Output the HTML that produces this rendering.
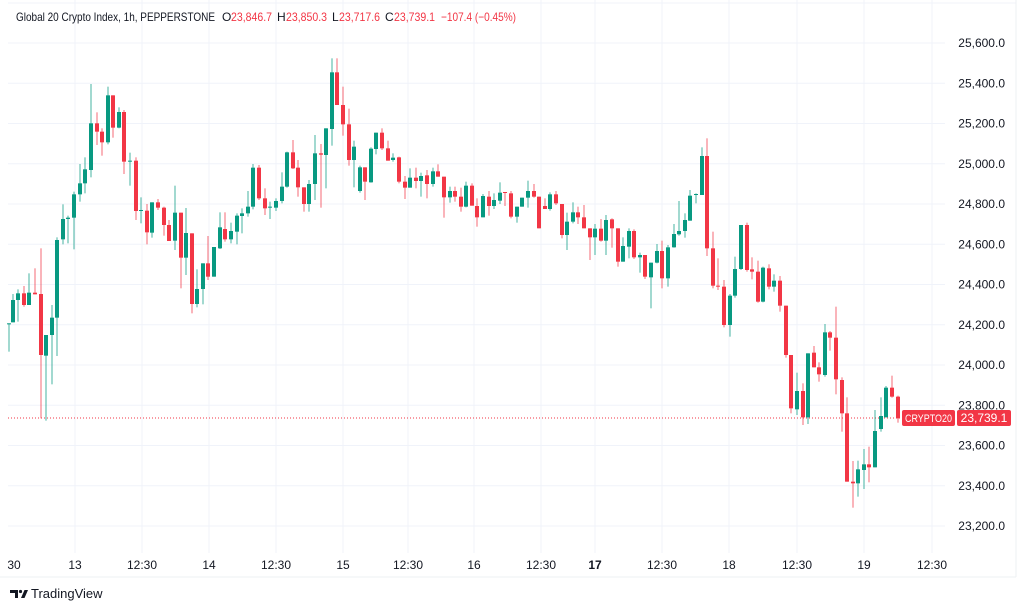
<!DOCTYPE html>
<html><head><meta charset="utf-8">
<style>
html,body{margin:0;padding:0;background:#fff;}
body{width:1024px;height:609px;overflow:hidden;font-family:"Liberation Sans",sans-serif;}
svg text{font-family:"Liberation Sans",sans-serif;}
</style></head>
<body>
<svg id="c" width="1024" height="609" xmlns="http://www.w3.org/2000/svg">
<rect width="1024" height="609" fill="#fff"/>
<g id="grid"></g>
<line x1="8" y1="418" x2="945" y2="418" stroke="#f23645" stroke-width="1" stroke-dasharray="1,2"/>
<g id="candles"></g>
<g id="axis" font-size="12" fill="#131722"></g>
<line x1="0" y1="577" x2="1016" y2="577" stroke="#eef0f3"/>
<line x1="1016" y1="0" x2="1016" y2="577" stroke="#eef0f3"/>
<g font-size="12" fill="#131722">
<text x="16" y="21" textLength="199" lengthAdjust="spacingAndGlyphs">Global 20 Crypto Index, 1h, PEPPERSTONE</text>
<text x="222" y="21">O</text><text x="231" y="21" fill="#f23645" textLength="41" lengthAdjust="spacingAndGlyphs">23,846.7</text>
<text x="277" y="21">H</text><text x="286" y="21" fill="#f23645" textLength="41" lengthAdjust="spacingAndGlyphs">23,850.3</text>
<text x="332" y="21">L</text><text x="339" y="21" fill="#f23645" textLength="41" lengthAdjust="spacingAndGlyphs">23,717.6</text>
<text x="385" y="21">C</text><text x="394" y="21" fill="#f23645" textLength="41" lengthAdjust="spacingAndGlyphs">23,739.1</text>
<text x="441" y="21" fill="#f23645" textLength="75" lengthAdjust="spacingAndGlyphs">−107.4 (−0.45%)</text>
</g>
<rect x="902" y="410" width="53" height="16" rx="2" fill="#f23645"/>
<text x="928.5" y="422" font-size="11" fill="#fff" text-anchor="middle" textLength="47" lengthAdjust="spacingAndGlyphs">CRYPTO20</text>
<rect x="957" y="410" width="54" height="16" rx="2" fill="#f23645"/>
<text x="984" y="422" font-size="12" fill="#fff" text-anchor="middle">23,739.1</text>
<g transform="translate(10,587)">
<path d="M0 3h8v8h-3v-5h-5z" fill="#131722"/>
<circle cx="10.5" cy="4.5" r="1.6" fill="#131722"/>
<path d="M11 11l3.5-8h3.5l-3.5 8z" fill="#131722"/>
</g>
<text x="31" y="598" font-size="13" fill="#131722">TradingView</text>
</svg>
<script>
var NS="http://www.w3.org/2000/svg";
function el(t,a,p){var e=document.createElementNS(NS,t);for(var k in a)e.setAttribute(k,a[k]);p.appendChild(e);return e;}
var grid=document.getElementById('grid'),axis=document.getElementById('axis'),cg=document.getElementById('candles');
function py(p){return 43+(25600-p)*0.20125;}
for(var p=23200;p<=25600;p+=200){var y=py(p);
 el('line',{x1:8,y1:y,x2:945,y2:y,stroke:'#f0f3fa'},grid);
 var t=el('text',{x:1005,y:y+4,'text-anchor':'end'},axis);t.textContent=p.toLocaleString('en-US')+'.0';}
var xs=[[14,'30'],[75,'13'],[142,'12:30'],[209,'14'],[276,'12:30'],[343,'15'],[408,'12:30'],[474,'16'],[541,'12:30'],[595,'17',1],[662,'12:30'],[729,'18'],[797,'12:30'],[864,'19'],[932,'12:30']];
xs.forEach(function(a){ if(a[0]>20) el('line',{x1:a[0],y1:0,x2:a[0],y2:553,stroke:'#f0f3fa'},grid);
 var t=el('text',{x:a[0],y:569,'text-anchor':'middle'},axis);if(a[2])t.setAttribute('font-weight','bold');t.textContent=a[1];});
el('line',{x1:8,y1:3,x2:1016,y2:3,stroke:'#f0f3fa'},grid);
var Z=[
[0,50,[[26,820,822,820,905,'g'],[38,750,817,732,817,'g'],[54,730,750,718,815,'g'],[71,730,765,708,770,'r'],[88,728,765,670,765,'g'],[104,728,733,655,733,'r'],[122,732,915,595,1105,'r'],[139,855,917,855,1112,'g'],[155,803,855,765,1003,'g'],[172,570,803,562,918,'g'],[188,507,568,463,583,'g'],[205,503,507,497,580,'g'],[222,433,503,425,598,'g'],[239,400,433,342,455,'g'],[256,358,400,322,430,'g'],[273,220,360,102,382,'g'],[290,220,245,187,285,'r'],[307,245,277,235,317,'r'],[323,136,277,110,283,'g'],[340,136,233,136,263,'r'],[357,186,233,172,235,'g'],[373,186,335,180,372,'r'],[390,332,335,308,407,'g'],[407,332,483,322,510,'r'],[424,480,482,442,520,'g'],[441,482,547,462,583,'r'],[457,457,548,457,563,'g'],[474,457,473,447,480,'r'],[491,473,525,470,557,'r'],[508,525,573,510,573,'r'],[525,488,572,407,600,'g'],[542,488,623,488,715,'r'],[558,549,623,474,675,'g'],[575,550,762,550,790,'r'],[591,717,762,658,772,'g'],[608,640,717,640,763,'g'],[625,640,680,558,690,'r'],[642,591,680,591,680,'g'],[659,532,595,487,597,'g'],[676,537,568,487,575,'r'],[693,543,568,518,580,'g'],[710,497,545,490,583,'g']]],
[235,50,[[21,490,498,475,550,'g'],[38,470,490,423,500,'g'],[55,353,470,342,478,'g'],[72,353,445,345,450,'r'],[89,445,475,415,495,'r'],[106,470,472,455,507,'g'],[123,453,473,445,483,'g'],[140,410,453,367,460,'g'],[156,307,410,305,413,'g'],[173,307,355,270,357,'r'],[190,353,412,330,440,'r'],[206,412,462,412,485,'r'],[223,402,462,390,485,'g'],[240,310,402,255,450,'g'],[257,310,314,282,473,'r'],[274,235,315,235,415,'g'],[290,67,237,25,287,'g'],[307,67,165,25,165,'r'],[324,165,223,110,257,'r'],[341,223,330,176,347,'r'],[358,290,330,272,412,'g'],[374,352,423,347,428,'g'],[391,352,395,352,450,'r'],[408,296,397,292,398,'g'],[424,248,297,248,313,'g'],[441,248,295,235,300,'r'],[458,295,332,272,332,'r'],[475,323,330,310,335,'g'],[492,322,395,320,400,'r'],[509,395,413,378,447,'r'],[526,383,413,355,413,'g'],[542,383,393,353,415,'r'],[559,378,393,368,440,'g'],[576,376,402,360,445,'r'],[593,364,402,353,410,'g'],[610,364,380,343,380,'r'],[627,380,442,380,503,'r'],[644,423,442,410,458,'g'],[660,423,440,410,455,'r'],[677,440,470,413,485,'r'],[694,407,470,395,472,'g'],[711,407,467,400,467,'r']]],
[470,130,[[22,228,262,205,290,'r'],[39,198,262,192,262,'g'],[56,200,228,183,257,'r'],[73,210,228,190,237,'g'],[90,188,212,157,222,'g'],[106,186,188,186,228,'r'],[123,190,260,183,265,'r'],[140,230,260,230,278,'g'],[157,203,230,203,230,'g'],[174,183,203,152,233,'g'],[191,183,200,162,203,'r'],[207,200,295,200,295,'r'],[224,228,237,205,237,'r'],[241,193,237,187,242,'g'],[258,193,220,183,225,'r'],[275,222,315,222,325,'r'],[292,275,315,248,360,'g'],[308,247,275,217,280,'g'],[325,247,262,230,282,'r'],[342,262,295,225,295,'r'],[359,295,322,295,390,'r'],[375,296,322,282,375,'g'],[392,296,332,267,335,'r'],[409,270,332,255,375,'g'],[426,268,295,265,353,'r'],[443,295,395,295,410,'r'],[460,348,395,322,395,'g'],[477,303,350,295,385,'g'],[493,303,382,298,387,'r'],[510,375,382,368,428,'g'],[526,375,440,375,447,'r'],[543,398,442,398,535,'g'],[560,363,398,342,400,'g'],[577,363,445,332,475,'r'],[594,352,445,345,470,'g'],[611,312,352,282,353,'g'],[628,303,313,213,317,'g'],[645,270,303,250,323,'g'],[661,197,272,180,272,'g'],[678,192,194,190,220,'g'],[695,78,195,52,195,'g'],[711,78,355,25,378,'r']]],
[690,130,[[68,355,467,305,475,'r'],[85,467,470,385,480,'r'],[101,470,585,450,592,'r'],[119,497,585,492,620,'g'],[136,417,497,380,503,'g'],[152,285,417,285,420,'g'],[170,285,420,278,425,'r'],[186,418,425,382,448,'r'],[203,425,515,392,518,'r'],[219,413,515,410,517,'g'],[236,415,470,403,478,'r'],[253,452,470,433,485,'g'],[270,452,527,438,545,'r'],[287,527,675,527,683,'r'],[304,675,835,675,850,'r'],[321,783,838,728,855,'g'],[338,783,862,760,885,'r'],[354,670,862,670,882,'g'],[371,668,712,648,712,'r'],[388,712,733,697,755,'r'],[404,607,735,582,740,'g'],[421,607,623,603,662,'r'],[438,623,748,530,793,'r'],[455,750,850,742,905,'r'],[471,850,1055,802,1055,'r'],[488,1055,1060,993,1133,'r'],[505,1018,1060,992,1100,'g'],[521,1003,1020,957,1077,'g'],[538,1003,1012,950,1057,'r'],[555,903,1012,840,1012,'g'],[572,858,897,802,905,'g'],[589,773,862,768,862,'g'],[606,773,800,737,803,'r'],[623,800,865,797,878,'r']]]
];
Z.forEach(function(z){var ox=z[0],oy=z[1];z[2].forEach(function(c){
 var x=Math.round(ox+c[0]/3),col=c[5]=='g'?'#089981':'#f23645';
 var bt=oy+c[1]/3,bb=oy+c[2]/3,wt=oy+c[3]/3,wb=oy+c[4]/3;
 el('rect',{x:x-0.5,y:wt,width:1,height:Math.max(1,wb-wt),fill:col,opacity:0.75},cg);
 el('rect',{x:x-2,y:bt,width:4,height:Math.max(1,bb-bt),fill:col},cg);
});});
</script>
</body></html>
